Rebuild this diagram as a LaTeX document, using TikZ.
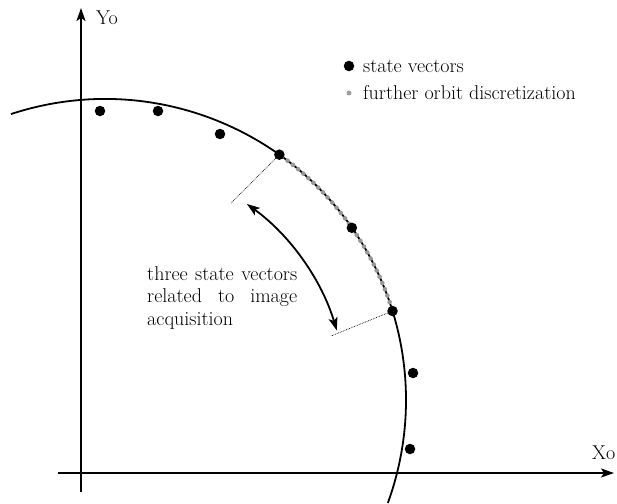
\documentclass[tikz,border=0pt]{standalone}
\usetikzlibrary{arrows.meta,calc}
\begin{document}
\begin{tikzpicture}[x=1pt,y=-1pt,
  tip/.tip={Stealth[length=13pt,width=9pt,inset=3pt]},
  axis/.style={line width=1.8pt,-tip},
  orbit/.style={line width=1.8pt},
  sv/.style={circle,fill=black,inner sep=0pt,minimum size=10.5pt},
  gdot/.style={circle,fill=gray!75,inner sep=0pt,minimum size=5pt},
  leader/.style={densely dotted,line width=0.7pt},
  lbl/.style={inner sep=0pt,font=\fontsize{20}{22.8}\selectfont},
  span/.style={line width=1.8pt,tip-tip}]
\useasboundingbox (0,0) rectangle (617,503);
% axes
\coordinate (yb) at (81,492);
\coordinate (yt) at (81,8);
\coordinate (xl) at (58,473);
\coordinate (xr) at (614,473);
\draw[axis] (yb) -- (yt);
\draw[axis] (xl) -- (xr);
\node[lbl,anchor=base west] (ylab) at (96,25) {Yo};
\node[lbl,anchor=base west] (xlab) at (592,459) {Xo};
% orbit
\coordinate (c) at (105,400);
\draw[orbit] (c) ++(-108.2:301) arc[start angle=-108.2,end angle=20,radius=301];
% further discretization
\draw[gray!80,line width=4.6pt,line cap=round,dash pattern=on 0pt off 6.8pt,dash phase=-3.4pt] (c) ++(-54.6:301) arc[start angle=-54.6,end angle=-17.2,radius=301];
% state vectors
\node[sv] (s1) at (100,111) {};
\node[sv] (s2) at (158,111) {};
\node[sv] (s3) at (220,134) {};
\node[sv] (s4) at ($(c)+(-54.6:301)$) {};
\node[sv] (s5) at ($(c)+(-34.9:301)$) {};
\node[sv] (s6) at ($(c)+(-17.2:301)$) {};
\node[sv] (s7) at (413,373) {};
\node[sv] (s8) at (410,449) {};
% leaders
\coordinate (l1) at (231,203);
\coordinate (l2) at (331,336);
\draw[leader] (s4.center) -- (l1);
\draw[leader] (s6.center) -- (l2);
% span arrow
\draw[span] (c) ++(-54.1:242) arc[start angle=-54.1,end angle=-16.7,radius=242];
\node[lbl,anchor=north west,text width=150pt,align=justify] (txt) at (147,266)
  {three state vectors\linebreak related to image\linebreak acquisition};
% legend
\node[sv] (ld1) at (349,66) {};
\node[gdot] (ld2) at (349,93) {};
\node[lbl,anchor=base west] (lt1) at (363,72) {state vectors};
\node[lbl,anchor=base west] (lt2) at (363,99) {further orbit discretization};
\end{tikzpicture}
\end{document}
